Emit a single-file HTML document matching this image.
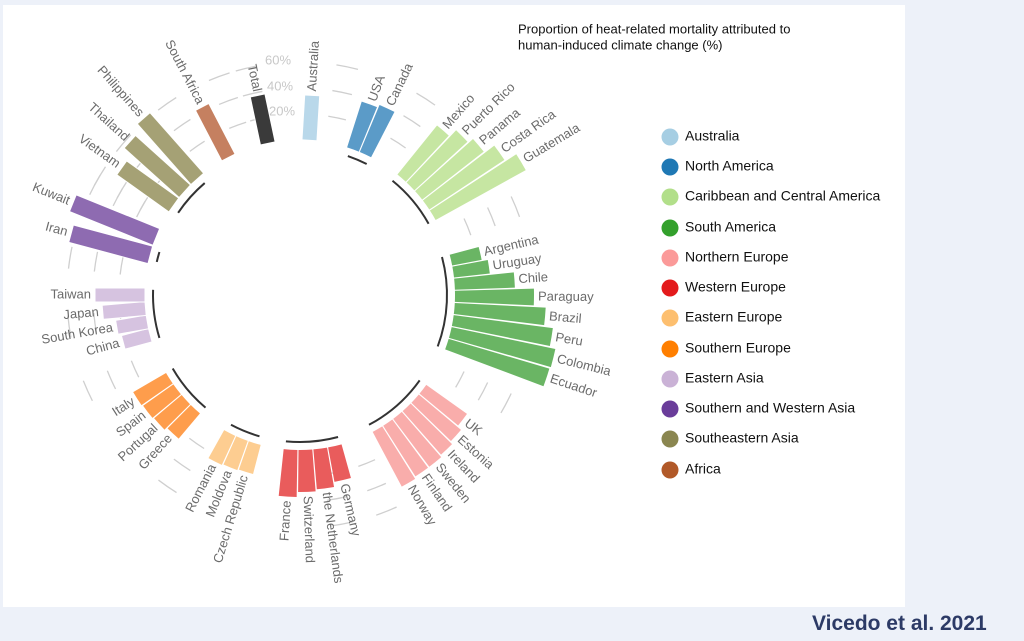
<!DOCTYPE html>
<html><head><meta charset="utf-8"><style>
html,body{margin:0;padding:0;background:#edf1f9;}
body{width:1024px;height:641px;position:relative;overflow:hidden;font-family:"Liberation Sans",sans-serif;}
#panel{position:absolute;left:3px;top:5px;width:902px;height:602px;background:#fff;}
svg{position:absolute;left:0;top:0;}
.l{font-size:13px;fill:#6b6b6b;dominant-baseline:middle;}
.g{fill:none;stroke:#cfcfcf;stroke-width:1.3;}
.a{fill:none;stroke:#333;stroke-width:2;}
.w circle{fill:none;}
.lg{font-size:14px;fill:#111;dominant-baseline:middle;}
#cred{position:absolute;left:812px;top:612px;font-size:21px;font-weight:bold;color:#2c3a66;}
</style></head><body>
<div id="panel"></div>
<svg width="1024" height="641" viewBox="0 0 1024 641">
<g transform="translate(300,295)">
<g class="g">
<circle r="181" stroke-dasharray="18 2000" transform="rotate(-81)"/><circle r="207" stroke-dasharray="20 2000" transform="rotate(-81)"/><circle r="233" stroke-dasharray="22 2000" transform="rotate(-81)"/>
<circle r="181" stroke-dasharray="18 2000" transform="rotate(-60)"/><circle r="207" stroke-dasharray="20 2000" transform="rotate(-60)"/><circle r="233" stroke-dasharray="22 2000" transform="rotate(-60)"/>
<circle r="181" stroke-dasharray="18 2000" transform="rotate(-25)"/><circle r="207" stroke-dasharray="20 2000" transform="rotate(-25)"/><circle r="233" stroke-dasharray="22 2000" transform="rotate(-25)"/>
<circle r="181" stroke-dasharray="18 2000" transform="rotate(25)"/><circle r="207" stroke-dasharray="20 2000" transform="rotate(25)"/><circle r="233" stroke-dasharray="22 2000" transform="rotate(25)"/>
<circle r="181" stroke-dasharray="18 2000" transform="rotate(65.5)"/><circle r="207" stroke-dasharray="20 2000" transform="rotate(65.5)"/><circle r="233" stroke-dasharray="22 2000" transform="rotate(65.5)"/>
<circle r="181" stroke-dasharray="18 2000" transform="rotate(77)"/><circle r="207" stroke-dasharray="20 2000" transform="rotate(77)"/><circle r="233" stroke-dasharray="22 2000" transform="rotate(77)"/>
<circle r="181" stroke-dasharray="18 2000" transform="rotate(122)"/><circle r="207" stroke-dasharray="20 2000" transform="rotate(122)"/><circle r="233" stroke-dasharray="22 2000" transform="rotate(122)"/>
<circle r="181" stroke-dasharray="18 2000" transform="rotate(153)"/><circle r="207" stroke-dasharray="20 2000" transform="rotate(153)"/><circle r="233" stroke-dasharray="22 2000" transform="rotate(153)"/>
<circle r="181" stroke-dasharray="18 2000" transform="rotate(169.5)"/><circle r="207" stroke-dasharray="20 2000" transform="rotate(169.5)"/><circle r="233" stroke-dasharray="22 2000" transform="rotate(169.5)"/>
<circle r="181" stroke-dasharray="18 2000" transform="rotate(-152)"/><circle r="207" stroke-dasharray="20 2000" transform="rotate(-152)"/><circle r="233" stroke-dasharray="22 2000" transform="rotate(-152)"/>
<circle r="181" stroke-dasharray="18 2000" transform="rotate(-173.5)"/><circle r="207" stroke-dasharray="20 2000" transform="rotate(-173.5)"/><circle r="233" stroke-dasharray="22 2000" transform="rotate(-173.5)"/>
<circle r="181" stroke-dasharray="18 2000" transform="rotate(-154.5)"/><circle r="207" stroke-dasharray="20 2000" transform="rotate(-154.5)"/><circle r="233" stroke-dasharray="22 2000" transform="rotate(-154.5)"/>
<circle r="181" stroke-dasharray="18 2000" transform="rotate(-113)"/><circle r="207" stroke-dasharray="20 2000" transform="rotate(-113)"/><circle r="233" stroke-dasharray="22 2000" transform="rotate(-113)"/>
<circle r="181" stroke-dasharray="18 2000" transform="rotate(-127.5)"/><circle r="207" stroke-dasharray="20 2000" transform="rotate(-127.5)"/><circle r="233" stroke-dasharray="22 2000" transform="rotate(-127.5)"/>
<circle r="181" stroke-dasharray="18 2000" transform="rotate(-142)"/><circle r="207" stroke-dasharray="20 2000" transform="rotate(-142)"/><circle r="233" stroke-dasharray="22 2000" transform="rotate(-142)"/>
<circle r="181" stroke-dasharray="18 2000" transform="rotate(-106)"/><circle r="207" stroke-dasharray="20 2000" transform="rotate(-106)"/><circle r="233" stroke-dasharray="22 2000" transform="rotate(-106)"/>
</g>
<g font-size="13" fill="#c8c8c8" text-anchor="middle" style="dominant-baseline:middle">
<text x="-18" y="-183">20%</text><text x="-20" y="-208">40%</text><text x="-22" y="-234">60%</text>
</g>
<g class="a">
<circle r="147" stroke-dasharray="20.5 2000" transform="rotate(-71)"/>
<circle r="147" stroke-dasharray="56.5 2000" transform="rotate(-51)"/>
<circle r="147" stroke-dasharray="91 2000" transform="rotate(-15)"/>
<circle r="147" stroke-dasharray="68 2000" transform="rotate(35.5)"/>
<circle r="147" stroke-dasharray="52.6 2000" transform="rotate(75)"/>
<circle r="147" stroke-dasharray="30.8 2000" transform="rotate(106)"/>
<circle r="147" stroke-dasharray="51.3 2000" transform="rotate(130)"/>
<circle r="147" stroke-dasharray="48.8 2000" transform="rotate(163)"/>
<circle r="147" stroke-dasharray="10.3 2000" transform="rotate(193)"/>
<circle r="147" stroke-dasharray="40 2000" transform="rotate(214)"/>
</g>
<!-- wedge bars -->
<g class="w">
<circle r="179" stroke-width="48" stroke="#5b9bc8" stroke-dasharray="14.37 2000" transform="rotate(-72.3)"/>
<circle r="180.5" stroke-width="51" stroke="#5b9bc8" stroke-dasharray="14.49 2000" transform="rotate(-67.3)"/>
<circle r="186.5" stroke-width="63" stroke="#c6e6a2" stroke-dasharray="13.35 2000" transform="rotate(-51.05)"/>
<circle r="191" stroke-width="72" stroke="#c6e6a2" stroke-dasharray="13.67 2000" transform="rotate(-46.55)"/>
<circle r="194" stroke-width="78" stroke="#c6e6a2" stroke-dasharray="13.88 2000" transform="rotate(-42.05)"/>
<circle r="200" stroke-width="90" stroke="#c6e6a2" stroke-dasharray="14.31 2000" transform="rotate(-37.55)"/>
<circle r="206.5" stroke-width="103" stroke="#c6e6a2" stroke-dasharray="14.78 2000" transform="rotate(-33.05)"/>
<circle r="170" stroke-width="30" stroke="#6ab564" stroke-dasharray="12.17 2000" transform="rotate(-15.05)"/>
<circle r="173" stroke-width="36" stroke="#6ab564" stroke-dasharray="12.38 2000" transform="rotate(-10.55)"/>
<circle r="185" stroke-width="60" stroke="#6ab564" stroke-dasharray="13.24 2000" transform="rotate(-6.05)"/>
<circle r="194.5" stroke-width="79" stroke="#6ab564" stroke-dasharray="13.92 2000" transform="rotate(-1.55)"/>
<circle r="200.5" stroke-width="91" stroke="#6ab564" stroke-dasharray="14.35 2000" transform="rotate(2.95)"/>
<circle r="205" stroke-width="100" stroke="#6ab564" stroke-dasharray="14.67 2000" transform="rotate(7.45)"/>
<circle r="208" stroke-width="106" stroke="#6ab564" stroke-dasharray="14.88 2000" transform="rotate(11.95)"/>
<circle r="207.5" stroke-width="105" stroke="#6ab564" stroke-dasharray="14.85 2000" transform="rotate(16.45)"/>
<circle r="180" stroke-width="50" stroke="#f9adab" stroke-dasharray="12.88 2000" transform="rotate(35.45)"/>
<circle r="182.5" stroke-width="55" stroke="#f9adab" stroke-dasharray="13.06 2000" transform="rotate(39.95)"/>
<circle r="184" stroke-width="58" stroke="#f9adab" stroke-dasharray="13.17 2000" transform="rotate(44.45)"/>
<circle r="185" stroke-width="60" stroke="#f9adab" stroke-dasharray="13.24 2000" transform="rotate(48.95)"/>
<circle r="185" stroke-width="60" stroke="#f9adab" stroke-dasharray="13.24 2000" transform="rotate(53.45)"/>
<circle r="186" stroke-width="62" stroke="#f9adab" stroke-dasharray="13.31 2000" transform="rotate(57.95)"/>
<circle r="172.5" stroke-width="35" stroke="#e95c5c" stroke-dasharray="15.35 2000" transform="rotate(74.45)"/>
<circle r="175" stroke-width="40" stroke="#e95c5c" stroke-dasharray="15.58 2000" transform="rotate(79.95)"/>
<circle r="176" stroke-width="42" stroke="#e95c5c" stroke-dasharray="15.67 2000" transform="rotate(85.45)"/>
<circle r="178.5" stroke-width="47" stroke="#e95c5c" stroke-dasharray="15.89 2000" transform="rotate(90.95)"/>
<circle r="170" stroke-width="30" stroke="#fdcd91" stroke-dasharray="13.65 2000" transform="rotate(104.7)"/>
<circle r="170.5" stroke-width="31" stroke="#fdcd91" stroke-dasharray="13.69 2000" transform="rotate(109.7)"/>
<circle r="171" stroke-width="32" stroke="#fdcd91" stroke-dasharray="13.73 2000" transform="rotate(114.7)"/>
<circle r="171.5" stroke-width="33" stroke="#fe9d4c" stroke-dasharray="13.77 2000" transform="rotate(130.2)"/>
<circle r="173" stroke-width="36" stroke="#fe9d4c" stroke-dasharray="13.89 2000" transform="rotate(135.2)"/>
<circle r="173.5" stroke-width="37" stroke="#fe9d4c" stroke-dasharray="13.93 2000" transform="rotate(140.2)"/>
<circle r="174" stroke-width="38" stroke="#fe9d4c" stroke-dasharray="13.97 2000" transform="rotate(145.2)"/>
</g>
<!-- rect bars -->
<g stroke="#fff" stroke-width="1">
<rect transform="rotate(3.5)" x="-7.5" y="-200" width="15" height="45" fill="#b9d8ea"/>
<rect transform="rotate(255)" x="-7" y="-183" width="14" height="28" fill="#d6c3e0"/>
<rect transform="rotate(260)" x="-7" y="-186" width="14" height="31" fill="#d6c3e0"/>
<rect transform="rotate(265)" x="-7" y="-198" width="14" height="43" fill="#d6c3e0"/>
<rect transform="rotate(270)" x="-7" y="-205" width="14" height="50" fill="#d6c3e0"/>
<rect transform="rotate(285)" x="-9" y="-237" width="18" height="82" fill="#8e6bb1"/>
<rect transform="rotate(292)" x="-9" y="-245" width="18" height="90" fill="#8e6bb1"/>
<rect transform="rotate(305.5)" x="-8.5" y="-219" width="17" height="64" fill="#a5a175"/>
<rect transform="rotate(312)" x="-8.5" y="-229" width="17" height="74" fill="#a5a175"/>
<rect transform="rotate(318.5)" x="-8.5" y="-236" width="17" height="81" fill="#a5a175"/>
<rect transform="rotate(332.5)" x="-7.5" y="-212" width="15" height="57" fill="#c58060"/>
<rect transform="rotate(348)" x="-7.5" y="-204" width="15" height="49" fill="#3a3a3a"/>
</g>
<g class="l" text-anchor="start">
<text transform="rotate(3.5) translate(0,-204) rotate(-90)">Australia</text>
<text transform="rotate(20.5) translate(0,-207) rotate(-90)">USA</text>
<text transform="rotate(25.5) translate(0,-210) rotate(-90)">Canada</text>
<text transform="rotate(41) translate(0,-222) rotate(-90)">Mexico</text>
<text transform="rotate(45.5) translate(0,-231) rotate(-90)">Puerto Rico</text>
<text transform="rotate(50) translate(0,-237) rotate(-90)">Panama</text>
<text transform="rotate(54.5) translate(0,-249) rotate(-90)">Costa Rica</text>
<text transform="rotate(59) translate(0,-262) rotate(-90)">Guatemala</text>
<text transform="rotate(77) translate(0,-189) rotate(-90)">Argentina</text>
<text transform="rotate(81.5) translate(0,-195) rotate(-90)">Uruguay</text>
<text transform="rotate(86) translate(0,-219) rotate(-90)">Chile</text>
<text transform="rotate(90.5) translate(0,-238) rotate(-90)">Paraguay</text>
<text transform="rotate(95) translate(0,-250) rotate(-90)">Brazil</text>
<text transform="rotate(99.5) translate(0,-259) rotate(-90)">Peru</text>
<text transform="rotate(104) translate(0,-265) rotate(-90)">Colombia</text>
<text transform="rotate(108.5) translate(0,-264) rotate(-90)">Ecuador</text>
<text transform="rotate(127.5) translate(0,-209) rotate(-90)">UK</text>
<text transform="rotate(132) translate(0,-214) rotate(-90)">Estonia</text>
<text transform="rotate(136.5) translate(0,-217) rotate(-90)">Ireland</text>
<text transform="rotate(141) translate(0,-219) rotate(-90)">Sweden</text>
<text transform="rotate(145.5) translate(0,-219) rotate(-90)">Finland</text>
<text transform="rotate(150) translate(0,-221) rotate(-90)">Norway</text>
<text transform="rotate(167) translate(0,-194) rotate(-90)">Germany</text>
<text transform="rotate(172.5) translate(0,-199) rotate(-90)">the Netherlands</text>
<text transform="rotate(178) translate(0,-201) rotate(-90)">Switzerland</text>
</g>
<g class="l" text-anchor="end">
<text transform="rotate(183.5) translate(0,-206) rotate(90)">France</text>
<text transform="rotate(197) translate(0,-189) rotate(90)">Czech Republic</text>
<text transform="rotate(202) translate(0,-190) rotate(90)">Moldova</text>
<text transform="rotate(207) translate(0,-191) rotate(90)">Romania</text>
<text transform="rotate(222.5) translate(0,-192) rotate(90)">Greece</text>
<text transform="rotate(227.5) translate(0,-195) rotate(90)">Portugal</text>
<text transform="rotate(232.5) translate(0,-196) rotate(90)">Spain</text>
<text transform="rotate(237.5) translate(0,-197) rotate(90)">Italy</text>
<text transform="rotate(255) translate(0,-187) rotate(90)">China</text>
<text transform="rotate(260) translate(0,-190) rotate(90)">South Korea</text>
<text transform="rotate(265) translate(0,-202) rotate(90)">Japan</text>
<text transform="rotate(270) translate(0,-209) rotate(90)">Taiwan</text>
<text transform="rotate(285) translate(0,-241) rotate(90)">Iran</text>
<text transform="rotate(292) translate(0,-249) rotate(90)">Kuwait</text>
<text transform="rotate(305.5) translate(0,-223) rotate(90)">Vietnam</text>
<text transform="rotate(312) translate(0,-233) rotate(90)">Thailand</text>
<text transform="rotate(318.5) translate(0,-240) rotate(90)">Philippines</text>
<text transform="rotate(332.5) translate(0,-216) rotate(90)">South Africa</text>
<text transform="rotate(348) translate(0,-208) rotate(90)">Total</text>
</g>
</g>
<text x="518" y="30" font-size="13" fill="#111" style="dominant-baseline:middle">Proportion of heat-related mortality attributed to</text>
<text x="518" y="46" font-size="13" fill="#111" style="dominant-baseline:middle">human-induced climate change (%)</text>
<g>
<circle cx="670" cy="137" r="8.5" fill="#a6cee3"/><text class="lg" x="685" y="137">Australia</text>
<circle cx="670" cy="167" r="8.5" fill="#1f78b4"/><text class="lg" x="685" y="167">North America</text>
<circle cx="670" cy="197" r="8.5" fill="#b2df8a"/><text class="lg" x="685" y="197">Caribbean and Central America</text>
<circle cx="670" cy="228" r="8.5" fill="#33a02c"/><text class="lg" x="685" y="228">South America</text>
<circle cx="670" cy="258" r="8.5" fill="#fb9a99"/><text class="lg" x="685" y="258">Northern Europe</text>
<circle cx="670" cy="288" r="8.5" fill="#e31a1c"/><text class="lg" x="685" y="288">Western Europe</text>
<circle cx="670" cy="318" r="8.5" fill="#fdbf6f"/><text class="lg" x="685" y="318">Eastern Europe</text>
<circle cx="670" cy="349" r="8.5" fill="#ff7f00"/><text class="lg" x="685" y="349">Southern Europe</text>
<circle cx="670" cy="379" r="8.5" fill="#cab2d6"/><text class="lg" x="685" y="379">Eastern Asia</text>
<circle cx="670" cy="409" r="8.5" fill="#6a3d9a"/><text class="lg" x="685" y="409">Southern and Western Asia</text>
<circle cx="670" cy="439" r="8.5" fill="#8a8650"/><text class="lg" x="685" y="439">Southeastern Asia</text>
<circle cx="670" cy="470" r="8.5" fill="#b15928"/><text class="lg" x="685" y="470">Africa</text>
</g>
</svg>
<div id="cred">Vicedo et al. 2021</div>
</body></html>
